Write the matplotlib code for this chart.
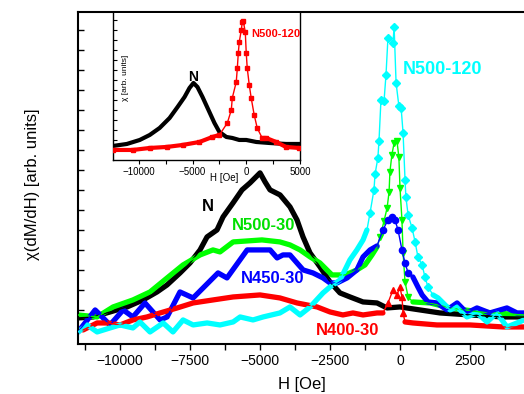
import numpy as np
import matplotlib
matplotlib.use('Agg')
import matplotlib.pyplot as plt
from matplotlib.ticker import MultipleLocator, NullFormatter

plt.rcParams['font.family'] = ['Liberation Sans', 'DejaVu Sans']

# ---- main panel data (H in Oe, chi in arb. units) ----
h_n = [-11500, -10964, -10357, -9750, -9179, -8679, -8321, -7857, -7500, -7143, -6893,
       -6536, -6321, -5964, -5643, -5357, -5000, -4821, -4643, -4286, -3929, -3679,
       -3464, -3214, -2857, -2500, -2143, -1786, -1321, -821, -464, 0, 714, 1429,
       2500, 3679, 4429]
chi_n = [26, 27, 32, 37, 44, 52, 59, 71, 81, 94, 107, 114, 127, 141, 154, 161, 171, 162,
         154, 149, 137, 124, 107, 91, 77, 62, 51, 47, 42, 41, 36, 37, 34, 31, 29, 27, 27]

h_500_30 = [-11500, -10820, -10250, -9540, -8930, -8320, -7750, -7140, -6680, -6430, -5960,
            -4930, -4290, -3930, -3570, -3210, -2860, -2430, -1960, -1540, -1250, -1000,
            -820, -710, -570, -460, -390, -360, -290, -210, -110, -40, 0, 70, 110, 180,
            290, 460, 1070, 1790, 2860, 4430]
chi_500_30 = [29, 27, 37, 44, 52, 66, 79, 89, 94, 92, 102, 104, 102, 99, 94, 87, 81, 69,
              69, 74, 79, 89, 97, 107, 123, 136, 152, 172, 189, 201, 203, 187, 156, 124,
              91, 62, 47, 42, 41, 36, 32, 29]

h_450_30 = [-11500, -10890, -10710, -10360, -9890, -9540, -9110, -8570, -8320, -7860, -7390,
            -6500, -6180, -5460, -4930, -4640, -4390, -4180, -3930, -3680, -3460, -3110,
            -2750, -2500, -2250, -1890, -1540, -1320, -1070, -820, -610, -430, -290, -180,
            -70, 70, 180, 290, 460, 640, 790, 1000, 1320, 1680, 2040, 2390, 2750, 3210,
            3820, 4180, 4430]
chi_450_30 = [12, 34, 29, 19, 34, 27, 41, 24, 27, 52, 46, 71, 66, 94, 94, 94, 86, 89, 89,
              81, 74, 71, 66, 61, 61, 66, 74, 87, 94, 98, 114, 124, 127, 124, 114, 94, 81,
              71, 67, 57, 49, 42, 41, 34, 41, 31, 36, 31, 36, 31, 31]

h_400_30 = [-11320, -10820, -10460, -10000, -9540, -9040, -8570, -7960, -7390, -6680, -5960,
            -5000, -4290, -3680, -2960, -2500, -2040, -1680, -1320, -820, -610, -430, -250,
            -110, 0, 70, 110, 180, 460, 1320, 2500, 3680, 4430]
chi_400_30 = [14, 21, 21, 19, 24, 27, 31, 36, 41, 44, 47, 49, 46, 41, 37, 32, 29, 31, 29,
              31, 31, 41, 54, 49, 57, 47, 31, 22, 21, 19, 19, 17, 17]

h_500_120 = [-11500, -11180, -10820, -10360, -10000, -9540, -9290, -8930, -8460, -8110,
             -7750, -7390, -6890, -6430, -5960, -5710, -5250, -4890, -4290, -3930, -3570,
             -3210, -2750, -2500, -2140, -1790, -1540, -1320, -1180, -1070, -930, -890,
             -790, -750, -680, -570, -500, -430, -250, -210, -140, -40, 40, 110, 180, 210,
             290, 430, 540, 640, 790, 890, 1000, 1180, 1360, 1540, 1790, 2040, 2390, 2750,
             3110, 3460, 3820, 4180, 4430]
chi_500_120 = [12, 19, 12, 16, 19, 16, 22, 12, 21, 12, 24, 19, 21, 19, 22, 27, 24, 27, 31,
               37, 29, 37, 51, 57, 64, 84, 94, 104, 114, 131, 154, 170, 186, 203, 244, 243,
               269, 306, 301, 317, 261, 238, 236, 211, 164, 147, 129, 116, 102, 87, 79, 67,
               57, 49, 46, 41, 34, 37, 27, 31, 22, 31, 17, 21, 24]

# ---- inset data ----
hi_n = [-12410, -11110, -9910, -8980, -8060, -7130, -6390, -5740, -5280, -4910, -4540,
        -4070, -3430, -2960, -2500, -1850, -1300, -650, 0, 930, 2130, 3700, 4980]
chii_n = [14, 16, 20, 25, 32, 42, 53, 63, 72, 77, 73, 63, 48, 37, 28, 23, 22, 20, 20, 18,
          17, 16, 16]

hi_120 = [-12410, -10560, -8980, -7410, -5930, -4350, -3150, -2500, -1760, -1390, -1300,
          -930, -830, -740, -650, -460, -370, -280, -90, 0, 90, 280, 460, 740, 1020, 1480,
          1850, 2780, 3700, 4910]
chii_120 = [10, 10, 12, 13, 15, 18, 23, 25, 37, 50, 62, 78, 92, 107, 118, 130, 138, 139,
            128, 107, 92, 75, 62, 45, 32, 22, 22, 18, 13, 12]

series = [
    (h_n, chi_n, '#000000', 's', None),
    (h_500_30, chi_500_30, '#00ff00', 'v', (-800, 350)),
    (h_450_30, chi_450_30, '#0000ff', 'o', (-700, 300)),
    (h_400_30, chi_400_30, '#ff0000', '^', (-500, 150)),
    (h_500_120, chi_500_120, '#00ffff', 'D', (-1150, 1100)),
]

fig = plt.figure(figsize=(5.24, 3.94), dpi=100)
ax = fig.add_axes([0.149, 0.127, 0.851, 0.843])

for h, c, col, m, win in series:
    h = np.array(h, float)
    c = np.array(c, float)
    if win is None:
        inside = np.zeros(len(h), bool)
    else:
        inside = (h > win[0]) & (h < win[1])
    thick = np.where(inside, np.nan, c)
    ax.plot(h, thick, color=col, lw=3.8, solid_capstyle='round', solid_joinstyle='round', zorder=2)
    ax.plot(h, c, color=col, lw=1, zorder=3)
    ax.plot(h[inside], c[inside], ls='none', marker=m, ms=4.5 if m != 'D' else 4,
            mec=col, mfc=col, zorder=3)

ax.set_xlim(-11500, 4430)
ax.set_ylim(0, 332)
ax.xaxis.set_major_locator(MultipleLocator(2500))
ax.xaxis.set_minor_locator(MultipleLocator(1250))
ax.set_yticks(np.arange(14, 333, 20))
ax.yaxis.set_major_formatter(NullFormatter())
ax.tick_params(axis='x', which='both', direction='out', length=4, width=1, labelsize=10)
ax.tick_params(axis='y', which='both', direction='in', length=4, width=1)
ax.spines['right'].set_visible(False)
for s in ['left', 'top', 'bottom']:
    ax.spines[s].set_linewidth(1.5)

ax.set_xlabel('H [Oe]', fontsize=12)
ax.xaxis.set_label_coords(0.502, -0.1)
ax.set_ylabel('χ(dM/dH) [arb. units]', fontsize=12)
ax.yaxis.set_label_coords(-0.085, 0.48)

ax.text(-6860, 137, 'N', color='#000000', fontsize=12, fontweight='bold', ha='center', va='center')
ax.text(-4890, 118, 'N500-30', color='#00e000', fontsize=12, fontweight='bold', ha='center', va='center')
ax.text(-4540, 65, 'N450-30', color='#0000ff', fontsize=12, fontweight='bold', ha='center', va='center')
ax.text(-1890, 13, 'N400-30', color='#ff0000', fontsize=12, fontweight='bold', ha='center', va='center')
ax.text(110, 274, 'N500-120', color='#00ffff', fontsize=13, fontweight='bold', ha='left', va='center')

# ---- inset ----
ins = fig.add_axes([0.2156, 0.594, 0.3569, 0.373])
ins.plot(hi_n, chii_n, color='#000000', lw=3, zorder=2)
ins.plot(hi_120, chii_120, color='#ff0000', lw=1, marker='s', ms=2.5, zorder=3)
ins.plot(hi_120[:8], chii_120[:8], color='#ff0000', lw=3, zorder=3)
ins.plot(hi_120[-5:], chii_120[-5:], color='#ff0000', lw=3, zorder=3)
ins.set_xlim(-12400, 5000)
ins.set_ylim(0, 147)
ins.set_xticks([-10000, -5000, 0, 5000])
ins.xaxis.set_minor_locator(MultipleLocator(2500))
ins.set_yticks(np.arange(10, 147, 10))
ins.yaxis.set_major_formatter(NullFormatter())
ins.tick_params(axis='x', which='both', direction='out', length=3, width=0.8, labelsize=7, pad=2)
ins.tick_params(axis='y', which='both', direction='in', length=3, width=0.8)
ins.spines['top'].set_visible(False)
for s in ['left', 'bottom', 'right']:
    ins.spines[s].set_linewidth(1)
ins.set_xlabel('H [Oe]', fontsize=7)
ins.xaxis.set_label_coords(0.594, -0.088)
ins.set_ylabel('χ [arb. units]', fontsize=6)
ins.yaxis.set_label_coords(0.085, 0.56)
ins.text(-4910, 83, 'N', color='#000000', fontsize=10, fontweight='bold', ha='center', va='center')
ins.text(460, 126, 'N500-120', color='#ff0000', fontsize=8, fontweight='bold', ha='left', va='center')

fig.savefig('out.png', dpi=100)
